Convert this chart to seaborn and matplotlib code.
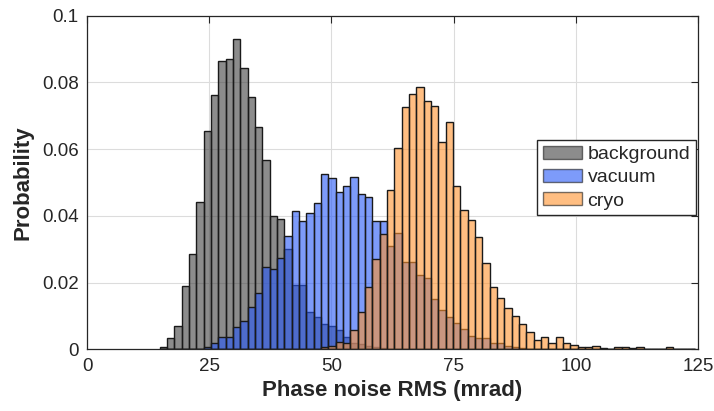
import numpy as np
import pandas as pd
import matplotlib
matplotlib.use('Agg')
import matplotlib.pyplot as plt
from matplotlib.patches import Patch
import seaborn as sns

# histogram bins (mrad), shared by the three series
first_edge = 14.85
bin_width = 1.5
n_bins = 73

# probability per bin; each series starts at a bin index
bg_start = 0
background = [0.0006, 0.0034, 0.0070, 0.0191, 0.0285, 0.0442, 0.0655, 0.0762,
              0.0865, 0.0869, 0.0930, 0.0842, 0.0755, 0.0665, 0.0567, 0.0400,
              0.0391, 0.0300, 0.0193, 0.0193, 0.0113, 0.0098, 0.0075, 0.0070,
              0.0058, 0.0038, 0.0020, 0.0015, 0.0010, 0.0008, 0.0005]

vac_start = 6
vacuum = [0.0008, 0.0018, 0.0036, 0.0036, 0.0066, 0.0085, 0.0126, 0.0168,
          0.0246, 0.0240, 0.0273, 0.0340, 0.0415, 0.0385, 0.0410, 0.0438,
          0.0524, 0.0513, 0.0470, 0.0488, 0.0516, 0.0465, 0.0458, 0.0384,
          0.0384, 0.0310, 0.0348, 0.0263, 0.0263, 0.0223, 0.0213, 0.0150,
          0.0118, 0.0098, 0.0078, 0.0060, 0.0040, 0.0035, 0.0035, 0.0020,
          0.0018, 0.0010, 0.0008, 0.0005]

cryo_start = 22
cryo = [0.0008, 0.0010, 0.0023, 0.0020, 0.0058, 0.0113, 0.0188, 0.0272,
        0.0345, 0.0478, 0.0603, 0.0725, 0.0764, 0.0785, 0.0745, 0.0728,
        0.0620, 0.0680, 0.0490, 0.0418, 0.0389, 0.0338, 0.0260, 0.0188,
        0.0153, 0.0125, 0.0101, 0.0076, 0.0051, 0.0027, 0.0036, 0.0018,
        0.0036, 0.0018, 0.0014, 0.0007, 0.0006, 0.0011, 0.0005, 0.0002,
        0.0008, 0.0008, 0.0005, 0.0008, 0.0002, 0.0, 0.0, 0.0008,
        0.0002, 0.0, 0.0002]

labels = ['background', 'vacuum', 'cryo']
colors = ['#404040', '#2658f7', '#ff932f']
xticks = [0, 25, 50, 75, 100, 125]
yticks = [0, 0.02, 0.04, 0.06, 0.08, 0.1]
ytick_labels = ['0', '0.02', '0.04', '0.06', '0.08', '0.1']

edges = list(first_edge + bin_width * np.arange(n_bins + 1))
centers = [(a + b) / 2 for a, b in zip(edges[:-1], edges[1:])]

sns.set_style('white')
plt.rcParams['font.family'] = ['Liberation Sans', 'DejaVu Sans']

fig = plt.figure(figsize=(7.14, 4.11), dpi=100)
ax = fig.add_axes([0.122, 0.150, 0.8556, 0.812])

series = [(background, bg_start), (vacuum, vac_start), (cryo, cryo_start)]
for (vals, start), lab, col in zip(series, labels, colors):
    d = pd.DataFrame({'x': centers[start:start + len(vals)], 'w': vals})
    sns.histplot(data=d, x='x', weights='w', bins=edges, stat='count', color=col,
                 alpha=0.6, edgecolor='#1a1a1a', linewidth=1.0, ax=ax)

ax.set_xlim(0, 125)
ax.set_ylim(0, 0.1)
ax.set_xticks(xticks)
ax.set_yticks(yticks)
ax.set_yticklabels(ytick_labels)
ax.tick_params(labelsize=13.5, direction='in', length=5, width=0.8,
               top=True, right=True, colors='#262626', pad=6)
ax.grid(True, color='#dcdcdc', linewidth=0.8)
ax.set_axisbelow(True)
for s in ax.spines.values():
    s.set_color('#262626')
    s.set_linewidth(0.9)

ax.set_xlabel('Phase noise RMS (mrad)', fontsize=16, fontweight='bold', labelpad=4)
ax.set_ylabel('Probability', fontsize=16, fontweight='bold', labelpad=6)

handles = [Patch(facecolor=c, alpha=0.6, edgecolor='#1a1a1a', linewidth=1.0)
           for c in colors]
leg = ax.legend(handles, labels, loc='upper left', bbox_to_anchor=(0.7365, 0.627),
                fontsize=14, frameon=True, fancybox=False, handlelength=2.0,
                handleheight=0.65, handletextpad=0.3, labelspacing=0.3,
                borderpad=0.3, borderaxespad=0)
leg.get_frame().set_edgecolor('#262626')
leg.get_frame().set_linewidth(1.0)
leg.get_frame().set_alpha(1)

fig.savefig('out.png', dpi=100)
